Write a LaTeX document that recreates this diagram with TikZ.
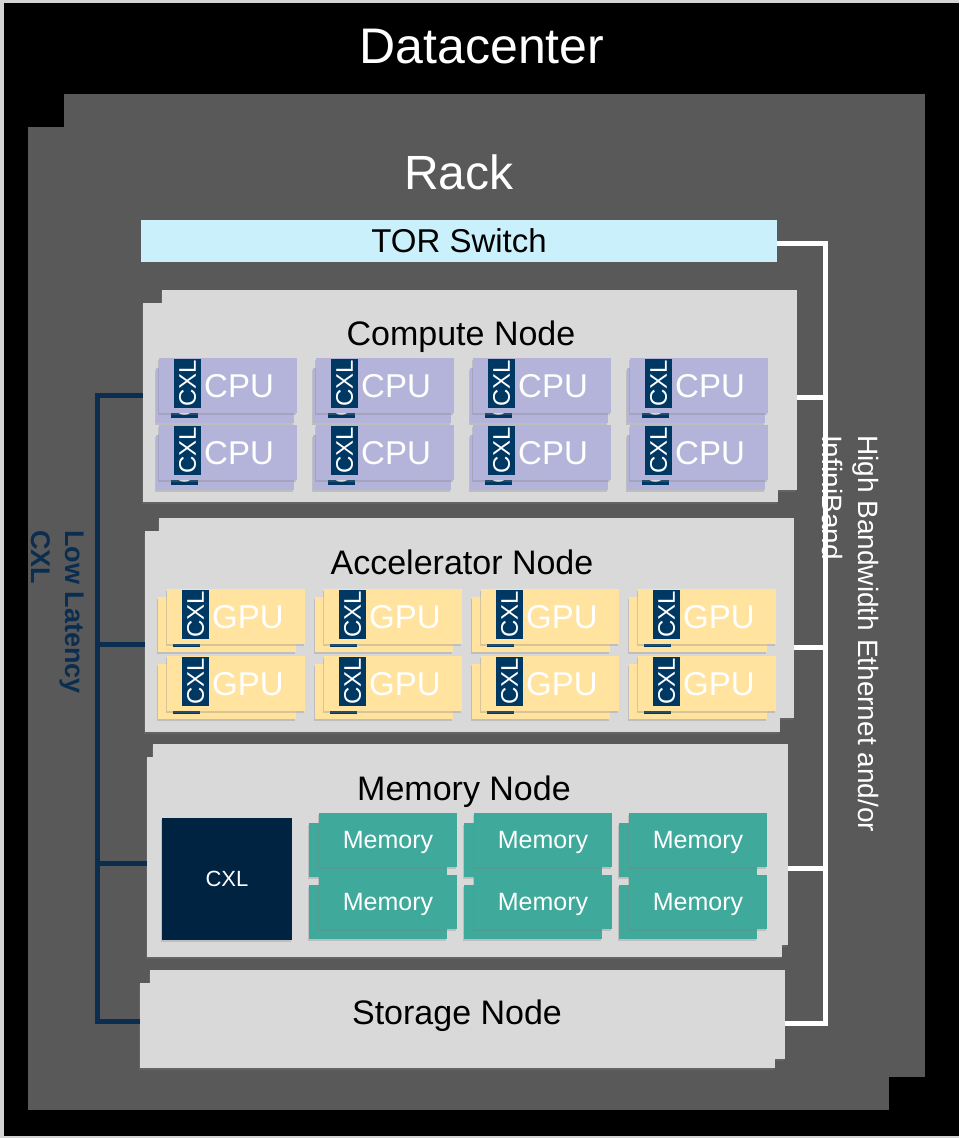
\documentclass[tikz,border=0pt]{standalone}
\usepackage{fontspec}
\setmainfont{Liberation Sans}
\usetikzlibrary{shadows}

\definecolor{edgegray}{HTML}{D4D4D4}
\definecolor{rackgray}{HTML}{595959}
\definecolor{panelgray}{HTML}{D9D9D9}
\definecolor{torcyan}{HTML}{C9F0FB}
\definecolor{cpulilac}{HTML}{B4B4DA}
\definecolor{gpuyellow}{HTML}{FFE39F}
\definecolor{memteal}{HTML}{3FA99B}
\definecolor{cxlblue}{HTML}{003864}
\definecolor{cxlnavy}{HTML}{002341}
\definecolor{busnavy}{HTML}{0B2D50}

\newcommand{\txtsize}[2]{\fontsize{#1}{#2}\selectfont}

\begin{document}
\begin{tikzpicture}[x=1pt, y=-1pt,
	box/.style={inner sep=0pt, outer sep=0pt, anchor=north west},
	rack/.style={box, fill=rackgray, minimum width=861pt, minimum height=983pt},
	panel/.style={box, fill=panelgray, minimum width=635pt, drop shadow={shadow xshift=-1pt, shadow yshift=-2pt, opacity=0.3}},
	chip/.style={box, minimum width=138pt, minimum height=55pt, drop shadow={shadow xshift=-1.5pt, shadow yshift=-2pt, opacity=0.3}},
	memchip/.style={chip, fill=memteal, minimum height=54pt, text=white, text depth=0pt, font=\txtsize{25}{30}},
	tag/.style={fill=cxlblue, text=white, rotate=90, minimum width=49pt, minimum height=27pt, inner sep=0pt, font=\txtsize{24}{28}},
	chiptext/.style={anchor=west, inner sep=0pt, text=white, font=\txtsize{33}{40}},
	title/.style={anchor=base, inner sep=0pt, font=\txtsize{34}{40}},
	cxlbus/.style={draw=busnavy, line width=5pt},
	ethbus/.style={draw=white, line width=5pt}
	]
	\useasboundingbox (0,0) rectangle (959,1138);
	\fill[edgegray] (0,0) rectangle (959,1138);
	\node[box, fill=black, minimum width=955pt, minimum height=1133pt] (datacenter) at (4,3) {};
	\node[anchor=base, inner sep=0pt, text=white, font=\txtsize{50}{60}] (dctitle) at (482,63) {Datacenter};

	\node[rack] (rackback) at (64,94) {};
	\node[rack] (rackfront) at (28,127) {};
	\node[anchor=base, inner sep=0pt, text=white, font=\txtsize{48}{56}] (racktitle) at (459,189) {Rack};

	\node[box, fill=torcyan, minimum width=636pt, minimum height=42pt, text depth=0pt, font=\txtsize{33}{40}] (tor) at (141,220) {TOR Switch};

	\node[panel, minimum height=200pt] (computeback) at (162,290) {};
	\node[panel, minimum height=199pt] (compute) at (143,303) {};
	\node[title] (computetitle) at (461,345) {Compute Node};

	\node[panel, minimum height=200pt] (accelback) at (159,518) {};
	\node[panel, minimum height=201pt] (accel) at (145,531) {};
	\node[title] (acceltitle) at (462,574) {Accelerator Node};

	\node[panel, minimum height=201pt] (memoryback) at (153,744) {};
	\node[panel, minimum height=200pt] (memory) at (147,757) {};
	\node[title] (memorytitle) at (464,800) {Memory Node};

	\node[panel, minimum height=89pt] (storageback) at (150,970) {};
	\node[panel, minimum height=85pt] (storage) at (140,983) {};
	\node[title] (storagetitle) at (457,1024) {Storage Node};

	\foreach \i in {0,...,3}{
		\foreach \j in {0,1}{
			\pgfmathsetmacro{\cx}{159+157*\i}
			\pgfmathsetmacro{\cy}{358+67*\j}
			\node[chip, fill=cpulilac] (cpuback\i\j) at (\cx-3,\cy+10) {};
			\node[tag] (cpubacktag\i\j) at (\cx+25.5,\cy+35.5) {CXL};
			\node[chip, fill=cpulilac] (cpu\i\j) at (\cx,\cy) {};
			\node[tag] (cputag\i\j) at (\cx+28.5,\cy+25.5) {CXL};
			\node[chiptext] (cputext\i\j) at (\cx+45,\cy+28) {CPU};
		}
	}

	\foreach \i in {0,...,3}{
		\foreach \j in {0,1}{
			\pgfmathsetmacro{\gx}{167+157*\i}
			\pgfmathsetmacro{\gy}{589+67*\j}
			\node[chip, fill=gpuyellow] (gpuback\i\j) at (\gx-9,\gy+8) {};
			\node[tag] (gpubacktag\i\j) at (\gx+19.5,\gy+33.5) {CXL};
			\node[chip, fill=gpuyellow] (gpu\i\j) at (\gx,\gy) {};
			\node[tag] (gputag\i\j) at (\gx+28.5,\gy+25.5) {CXL};
			\node[chiptext] (gputext\i\j) at (\gx+45,\gy+28) {GPU};
		}
	}

	\node[box, fill=cxlnavy, text=white, minimum width=130pt, minimum height=122pt, text depth=0pt, font=\txtsize{22}{26}, drop shadow={shadow xshift=-1.5pt, shadow yshift=-2pt, opacity=0.3}] (memcxl) at (162,818) {CXL};
	\foreach \i in {0,1,2}{
		\foreach \j in {0,1}{
			\pgfmathsetmacro{\mx}{319+155*\i}
			\pgfmathsetmacro{\my}{813+62*\j}
			\node[memchip] (memback\i\j) at (\mx-10,\my+10) {};
			\node[memchip] (mem\i\j) at (\mx,\my) {Memory};
		}
	}

	\coordinate (cxlc) at (97,395);
	\coordinate (cxla) at (97,644);
	\coordinate (cxlm) at (97,863);
	\coordinate (cxls) at (97,1021);
	\draw[cxlbus] (compute.west |- cxlc) -- (cxlc) -- (cxls) -- (storage.west |- cxls);
	\draw[cxlbus] (cxla) -- (accel.west |- cxla);
	\draw[cxlbus] (cxlm) -- (memory.west |- cxlm);
	\node[rotate=-90, anchor=north west, align=left, inner sep=0pt, text=busnavy, font=\bfseries\txtsize{27}{34}] (cxllabel) at (84,530) {Low Latency\\CXL};

	\coordinate (ethtor) at (825,243);
	\coordinate (ethc) at (825,397);
	\coordinate (etha) at (825,647);
	\coordinate (ethm) at (825,868);
	\coordinate (eths) at (825,1023);
	\draw[ethbus] (tor.east |- ethtor) -- (ethtor) -- (eths) -- (storageback.east |- eths);
	\draw[ethbus] (ethc) -- (computeback.east |- ethc);
	\draw[ethbus] (etha) -- (accelback.east |- etha);
	\draw[ethbus] (ethm) -- (memoryback.east |- ethm);
	\node[rotate=-90, anchor=north west, align=left, inner sep=0pt, text=white, font=\txtsize{28}{36}] (ethlabel) at (879,435) {High Bandwidth Ethernet and/or\\InfiniBand};
\end{tikzpicture}
\end{document}
